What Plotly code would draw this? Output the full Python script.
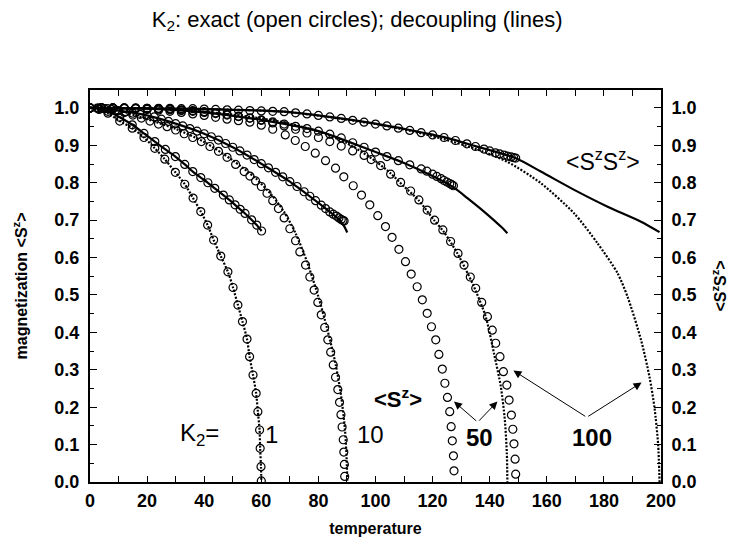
import plotly.graph_objects as go

# ---------------- data ----------------
# K2 = 1 : exact and decoupling coincide
t_k1_sz = [0, 3.2, 6.3, 10.4, 14.8, 18.9, 22.7, 26.2, 29.9, 33.2, 36.1, 38.8, 41.2, 43.3, 45.8,
           48.3, 50.1, 51.8, 53.4, 55.0, 55.9, 57.1, 58.2, 58.8, 59.4, 59.6, 59.9, 60.0]
m_k1_sz = [1.0, 0.996, 0.986, 0.965, 0.946, 0.921, 0.892, 0.863, 0.828, 0.796, 0.759, 0.723, 0.687, 0.647, 0.604,
           0.562, 0.520, 0.473, 0.429, 0.382, 0.335, 0.286, 0.237, 0.188, 0.139, 0.090, 0.041, 0.003]
t_k1_szsz = [0, 3.0, 6.3, 10.4, 14.8, 18.9, 22.7, 26.4, 29.9, 33.2, 36.0, 38.8, 41.3, 43.7, 46.7,
             48.8, 50.8, 52.6, 54.3, 56.6, 58.4, 60.1]
q_k1_szsz = [1.0, 0.999, 0.991, 0.975, 0.955, 0.932, 0.910, 0.889, 0.870, 0.849, 0.830, 0.814, 0.800, 0.785, 0.767,
             0.754, 0.741, 0.729, 0.718, 0.701, 0.687, 0.671]

# K2 = 10
t_k10_sz_ex = [0, 3, 6, 9, 12, 15, 18, 21, 24, 27, 30, 33, 36, 39, 42, 45, 48, 51, 54, 56, 58, 60, 62, 64,
               66, 68, 70, 72, 73.5, 75.5, 77, 78.5, 79.8, 81, 82.2, 83.3, 84.3, 85.2, 86, 86.8, 87.4, 87.9,
               88.3, 88.7, 88.9, 89.1, 89.2]
m_k10_sz_ex = [1.0, 0.9995, 0.998, 0.994, 0.988, 0.981, 0.973, 0.965, 0.957, 0.950, 0.941, 0.931, 0.921, 0.910,
               0.897, 0.884, 0.868, 0.849, 0.830, 0.818, 0.805, 0.790, 0.772, 0.752, 0.731, 0.706, 0.677, 0.645,
               0.615, 0.580, 0.548, 0.513, 0.480, 0.447, 0.413, 0.380, 0.347, 0.313, 0.280, 0.247, 0.213, 0.180,
               0.147, 0.113, 0.080, 0.047, 0.015]
t_k10_sz_dec = [0, 10, 20, 30, 40, 50, 58, 64, 68, 72, 76, 80, 83, 86, 88, 89.3, 89.9, 90.1]
m_k10_sz_dec = [1.0, 0.993, 0.970, 0.944, 0.909, 0.860, 0.812, 0.764, 0.722, 0.665, 0.589, 0.495, 0.412, 0.316,
                0.228, 0.140, 0.060, 0.0]
t_k10_szsz_ex = [0, 2.5, 5, 7.5, 10, 12.5, 15, 17.5, 20, 22.5, 25, 27.5, 30, 32.5, 35, 37.5, 40, 42.5, 45, 47.5,
                 50, 52.5, 55, 57.5, 60, 62.5, 65, 67.5, 70, 72.5, 75, 77, 79, 81, 82.5, 84, 85.2, 86.3, 87.2,
                 88, 88.6, 89.0]
q_k10_szsz_ex = [1.0, 0.9995, 0.998, 0.996, 0.993, 0.990, 0.986, 0.983, 0.980, 0.976, 0.970, 0.964, 0.958, 0.952,
                 0.945, 0.938, 0.931, 0.923, 0.914, 0.905, 0.895, 0.885, 0.874, 0.862, 0.851, 0.840, 0.828, 0.816,
                 0.803, 0.790, 0.776, 0.764, 0.752, 0.740, 0.731, 0.722, 0.716, 0.711, 0.706, 0.702, 0.699, 0.698]
t_k10_szsz_dec = [0, 10, 20, 30, 40, 50, 60, 70, 80, 84, 87, 89, 90.1]
q_k10_szsz_dec = [1.0, 0.993, 0.980, 0.958, 0.931, 0.895, 0.851, 0.803, 0.746, 0.722, 0.703, 0.684, 0.667]

# K2 = 50
t_k50_sz_ex = [0, 4, 8, 12, 16, 20, 24, 28, 32, 36, 40, 44, 48, 52, 56, 60, 64, 68.4, 71.9, 75.4, 78.9, 82.5,
               86, 88.9, 92.2, 95.1, 98, 100.8, 103.5, 105.8, 108.2, 110.5, 112.5, 114.6, 116.4, 118.1, 119.6,
               121.1, 122.2, 123.4, 124.3, 125.2, 126, 126.5, 126.9, 127.3, 127.5]
m_k50_sz_ex = [1.0, 1.0, 0.999, 0.999, 0.998, 0.996, 0.994, 0.991, 0.988, 0.984, 0.980, 0.975, 0.970, 0.966,
               0.962, 0.954, 0.943, 0.928, 0.913, 0.897, 0.879, 0.859, 0.839, 0.816, 0.792, 0.767, 0.741, 0.712,
               0.683, 0.654, 0.622, 0.589, 0.556, 0.522, 0.487, 0.451, 0.415, 0.380, 0.341, 0.302, 0.264, 0.226,
               0.188, 0.148, 0.110, 0.070, 0.030]
t_k50_sz_dec = [0, 20, 40, 60, 70, 80, 90, 100, 105.3, 110, 115, 120.5, 124, 128.7, 131.5, 134.5, 138.6, 141.5,
                143.9, 145.3, 146.0, 146.2]
m_k50_sz_dec = [1.0, 0.999, 0.990, 0.972, 0.958, 0.937, 0.906, 0.858, 0.825, 0.790, 0.754, 0.700, 0.668, 0.611,
                0.570, 0.522, 0.442, 0.344, 0.255, 0.166, 0.077, 0.0]
t_k50_szsz_ex = [0, 4, 8, 12, 16, 20, 24, 28, 32, 36, 40, 44, 48, 52, 56, 60, 64, 68, 72, 76, 80, 84, 88, 92,
                 96, 100, 104, 108, 112, 116, 118, 120, 121.5, 123, 124, 125, 126, 126.7, 127.3]
q_k50_szsz_ex = [1.0, 1.0, 1.0, 0.999, 0.999, 0.998, 0.997, 0.995, 0.993, 0.991, 0.988, 0.985, 0.981, 0.977,
                 0.973, 0.968, 0.963, 0.957, 0.951, 0.945, 0.938, 0.930, 0.920, 0.907, 0.895, 0.882, 0.870, 0.859,
                 0.848, 0.837, 0.831, 0.823, 0.817, 0.811, 0.806, 0.802, 0.798, 0.795, 0.792]
t_k50_szsz_dec = [0, 20, 40, 60, 80, 100, 110, 120, 127.5, 132.2, 138, 143.9, 146.2]
q_k50_szsz_dec = [1.0, 0.998, 0.988, 0.968, 0.938, 0.882, 0.853, 0.818, 0.787, 0.759, 0.723, 0.683, 0.665]

# K2 = 100
t_k100_sz_ex = [0, 4, 8, 12, 16, 20, 24, 28, 32, 36, 40, 44, 48, 52, 56, 60, 64, 68, 72, 76, 80, 84, 88, 92,
                96, 98.5, 101.8, 105.3, 108.8, 112.3, 115.2, 118.1, 120.7, 123.6, 126.3, 128.9, 131, 133.2,
                135.1, 137.2, 139.2, 140.9, 142.1, 143.6, 144.8, 146, 146.8, 147.6, 148.1, 148.5, 148.9, 149.1]
m_k100_sz_ex = [1.0, 1.0, 1.0, 1.0, 0.999, 0.999, 0.998, 0.997, 0.995, 0.993, 0.990, 0.987, 0.983, 0.978, 0.973,
                0.967, 0.960, 0.952, 0.943, 0.933, 0.921, 0.910, 0.898, 0.885, 0.873, 0.862, 0.846, 0.823, 0.801,
                0.778, 0.754, 0.727, 0.700, 0.674, 0.643, 0.611, 0.580, 0.548, 0.518, 0.480, 0.442, 0.406, 0.371,
                0.335, 0.295, 0.259, 0.219, 0.179, 0.141, 0.102, 0.061, 0.021]
t_k100_sz_dec = [0, 40, 68, 84, 100, 112, 122.8, 134.5, 146.2, 157.9, 169.6, 177.8, 184.8, 188.3, 193, 196,
                 197.7, 199, 199.5]
m_k100_sz_dec = [1.0, 0.997, 0.990, 0.975, 0.957, 0.939, 0.919, 0.892, 0.856, 0.799, 0.718, 0.638, 0.558, 0.495,
                 0.380, 0.280, 0.200, 0.100, 0.0]
t_k100_szsz_ex = [0, 4, 8, 12, 16, 20, 24, 28, 32, 36, 40, 44, 48, 52, 56, 60, 64, 68, 72, 76, 80, 84, 88, 92,
                  96, 100, 104, 108, 112, 116, 120, 124, 128, 132, 135, 138, 140, 142, 143.5, 145, 146.3, 147.5,
                  148.4, 149.1]
q_k100_szsz_ex = [1.0, 1.0, 1.0, 1.0, 1.0, 0.999, 0.999, 0.999, 0.998, 0.998, 0.997, 0.996, 0.995, 0.994, 0.993,
                  0.992, 0.991, 0.990, 0.987, 0.984, 0.980, 0.976, 0.972, 0.967, 0.962, 0.957, 0.952, 0.946, 0.940,
                  0.934, 0.928, 0.921, 0.913, 0.904, 0.897, 0.890, 0.885, 0.880, 0.877, 0.874, 0.871, 0.869,
                  0.867, 0.866]
t_k100_szsz_dec = [0, 40, 68, 84, 100, 112, 124, 135, 149, 157.9, 169.6, 181.3, 193, 199.5]
q_k100_szsz_dec = [1.0, 0.997, 0.990, 0.976, 0.958, 0.941, 0.922, 0.898, 0.866, 0.830, 0.781, 0.736, 0.696, 0.668]

x_ticks = [0, 20, 40, 60, 80, 100, 120, 140, 160, 180, 200]
y_ticks = [0.0, 0.1, 0.2, 0.3, 0.4, 0.5, 0.6, 0.7, 0.8, 0.9, 1.0]

# ---------------- figure ----------------
fig = go.Figure()
DOT = "2px,1.6px"

def line(t, v, dash, yaxis="y"):
    fig.add_trace(go.Scatter(x=t, y=v, mode="lines", yaxis=yaxis, hoverinfo="skip",
                             line=dict(color="black", width=2.2, dash=dash, shape="spline", smoothing=0.7)))

def circles(t, v, yaxis="y"):
    fig.add_trace(go.Scatter(x=t, y=v, mode="markers", yaxis=yaxis, hoverinfo="skip",
                             marker=dict(symbol="circle-open", size=8, color="black",
                                         line=dict(width=1.2, color="black"))))

# decoupling lines
line(t_k1_sz, m_k1_sz, DOT)
line(t_k10_sz_dec, m_k10_sz_dec, DOT)
line(t_k50_sz_dec, m_k50_sz_dec, DOT)
line(t_k100_sz_dec, m_k100_sz_dec, DOT)
line(t_k1_szsz, q_k1_szsz, "solid", "y2")
line(t_k10_szsz_dec, q_k10_szsz_dec, "solid", "y2")
line(t_k50_szsz_dec, q_k50_szsz_dec, "solid", "y2")
line(t_k100_szsz_dec, q_k100_szsz_dec, "solid", "y2")
# exact results
circles(t_k1_sz, m_k1_sz)
circles(t_k10_sz_ex, m_k10_sz_ex)
circles(t_k50_sz_ex, m_k50_sz_ex)
circles(t_k100_sz_ex, m_k100_sz_ex)
circles(t_k1_szsz, q_k1_szsz, "y2")
circles(t_k10_szsz_ex, q_k10_szsz_ex, "y2")
circles(t_k50_szsz_ex, q_k50_szsz_ex, "y2")
circles(t_k100_szsz_ex, q_k100_szsz_ex, "y2")

FONT = "Liberation Sans, Arial, sans-serif"
tickfont = dict(family=FONT, size=18, color="black", weight="bold")
titlefont = dict(family=FONT, size=16, color="black", weight="bold")
yrange = [0, 1.048]
common_y = dict(range=yrange, tickvals=y_ticks, tickformat=".1f", ticks="inside", ticklen=7, tickwidth=1,
                tickcolor="black", minor=dict(dtick=0.05, tick0=0, ticks="inside", ticklen=4, tickcolor="black"),
                showline=True, linewidth=2, linecolor="black", showgrid=False, zeroline=False,
                tickfont=tickfont, ticklabelstandoff=5, automargin=False)

fig.update_layout(
    width=729, height=537,
    margin=dict(l=90, r=68, t=90, b=55),
    plot_bgcolor="white", paper_bgcolor="white",
    showlegend=False,
    font=dict(family=FONT, color="black"),
    title=dict(text="K<sub>2</sub>: exact (open circles); decoupling (lines)",
               x=0.49, xanchor="center", y=1 - 19 / 537, yanchor="middle",
               font=dict(family=FONT, size=22, color="black")),
    xaxis=dict(range=[0, 200], tickvals=x_ticks, ticks="inside", ticklen=6, tickwidth=1, tickcolor="black",
               minor=dict(dtick=10, tick0=0, ticks="inside", ticklen=6, tickcolor="black"),
               showline=True, linewidth=2, linecolor="black", mirror="allticks",
               showgrid=False, zeroline=False, tickfont=tickfont, ticklabelstandoff=1, automargin=False,
               title=dict(text="temperature", standoff=14, font=titlefont)),
    yaxis=dict(**common_y,
               title=dict(text="magnetization &lt;S<sup>z</sup>&gt;", standoff=23, font=titlefont)),
    yaxis2=dict(**common_y, overlaying="y", side="right",
                title=dict(text="&lt;S<sup>z</sup>S<sup>z</sup>&gt;", standoff=19, font=titlefont)),
)

def label(x, y, text, size=24, bold=False):
    fig.add_annotation(x=x, y=y, xref="x", yref="y", text=text, showarrow=False,
                       font=dict(family=FONT, size=size, color="black",
                                 weight="bold" if bold else "normal"))

label(38.2, 0.126, "K<sub>2</sub>=")
label(63.5, 0.126, "1")
label(98.2, 0.126, "10")
label(136.5, 0.120, "50", bold=True)
label(175.8, 0.120, "100", bold=True)
label(108, 0.225, "&lt;S<sup>z</sup>&gt;", size=22, bold=True)
label(179.6, 0.861, "&lt;S<sup>z</sup>S<sup>z</sup>&gt;", size=23)

def arrow(x_tail, y_tail, x_tip, y_tip):
    fig.add_annotation(x=x_tip, y=y_tip, ax=x_tail, ay=y_tail, xref="x", yref="y", axref="x", ayref="y",
                       text="", showarrow=True, arrowhead=2, arrowsize=1.6, arrowwidth=1, arrowcolor="black")

arrow(135.8, 0.160, 127.5, 0.215)
arrow(135.8, 0.160, 142.7, 0.215)
arrow(174.0, 0.173, 148.3, 0.298)
arrow(174.0, 0.173, 193.2, 0.266)

fig.write_html("out.html")
